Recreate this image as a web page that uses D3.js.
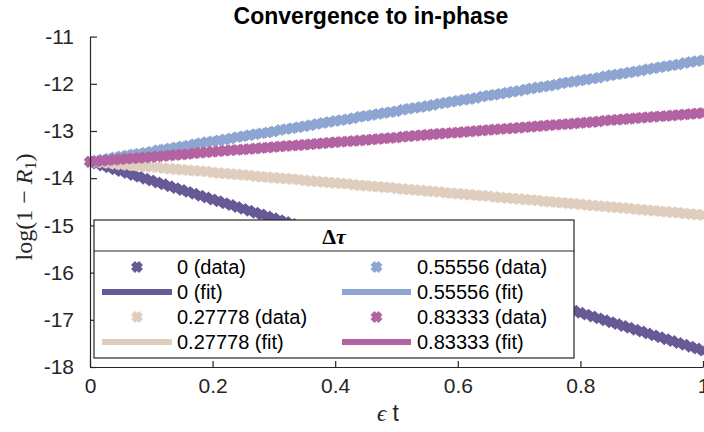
<!DOCTYPE html>
<html>
<head>
<meta charset="utf-8">
<script src="https://cdn.jsdelivr.net/npm/d3@7"></script>
<style>
  body { margin: 0; background: #fff; }
  svg { display: block; }
</style>
</head>
<body>
<script>
// Sample times (epsilon t)
const t = [
  0.00, 0.01, 0.02, 0.03, 0.04, 0.05, 0.06, 0.07, 0.08, 0.09,
  0.10, 0.11, 0.12, 0.13, 0.14, 0.15, 0.16, 0.17, 0.18, 0.19,
  0.20, 0.21, 0.22, 0.23, 0.24, 0.25, 0.26, 0.27, 0.28, 0.29,
  0.30, 0.31, 0.32, 0.33, 0.34, 0.35, 0.36, 0.37, 0.38, 0.39,
  0.40, 0.41, 0.42, 0.43, 0.44, 0.45, 0.46, 0.47, 0.48, 0.49,
  0.50, 0.51, 0.52, 0.53, 0.54, 0.55, 0.56, 0.57, 0.58, 0.59,
  0.60, 0.61, 0.62, 0.63, 0.64, 0.65, 0.66, 0.67, 0.68, 0.69,
  0.70, 0.71, 0.72, 0.73, 0.74, 0.75, 0.76, 0.77, 0.78, 0.79,
  0.80, 0.81, 0.82, 0.83, 0.84, 0.85, 0.86, 0.87, 0.88, 0.89,
  0.90, 0.91, 0.92, 0.93, 0.94, 0.95, 0.96, 0.97, 0.98, 0.99,
  1.00
];

// log(1 - R1) for delta tau = 0
const logR_0 = [
  -13.65, -13.69, -13.73, -13.77, -13.81, -13.85, -13.89, -13.93, -13.97, -14.01,
  -14.05, -14.09, -14.13, -14.17, -14.21, -14.25, -14.29, -14.33, -14.37, -14.41,
  -14.45, -14.49, -14.53, -14.57, -14.61, -14.65, -14.69, -14.73, -14.77, -14.81,
  -14.85, -14.89, -14.93, -14.97, -15.01, -15.05, -15.09, -15.13, -15.17, -15.21,
  -15.25, -15.29, -15.33, -15.37, -15.41, -15.45, -15.49, -15.53, -15.57, -15.61,
  -15.65, -15.69, -15.73, -15.77, -15.81, -15.85, -15.89, -15.93, -15.97, -16.01,
  -16.05, -16.09, -16.13, -16.17, -16.21, -16.25, -16.29, -16.33, -16.37, -16.41,
  -16.45, -16.49, -16.53, -16.57, -16.61, -16.65, -16.69, -16.73, -16.77, -16.81,
  -16.85, -16.89, -16.93, -16.97, -17.01, -17.05, -17.09, -17.13, -17.17, -17.21,
  -17.25, -17.29, -17.33, -17.37, -17.41, -17.45, -17.49, -17.53, -17.57, -17.61,
  -17.65
];

// delta tau = 0.27778
const logR_1 = [
  -13.65, -13.66, -13.67, -13.68, -13.70, -13.71, -13.72, -13.73, -13.74, -13.75,
  -13.76, -13.77, -13.79, -13.80, -13.81, -13.82, -13.83, -13.84, -13.85, -13.86,
  -13.88, -13.89, -13.90, -13.91, -13.92, -13.93, -13.94, -13.96, -13.97, -13.98,
  -13.99, -14.00, -14.01, -14.02, -14.03, -14.05, -14.06, -14.07, -14.08, -14.09,
  -14.10, -14.11, -14.12, -14.14, -14.15, -14.16, -14.17, -14.18, -14.19, -14.20,
  -14.22, -14.23, -14.24, -14.25, -14.26, -14.27, -14.28, -14.29, -14.31, -14.32,
  -14.33, -14.34, -14.35, -14.36, -14.37, -14.38, -14.40, -14.41, -14.42, -14.43,
  -14.44, -14.45, -14.46, -14.47, -14.49, -14.50, -14.51, -14.52, -14.53, -14.54,
  -14.55, -14.57, -14.58, -14.59, -14.60, -14.61, -14.62, -14.63, -14.64, -14.66,
  -14.67, -14.68, -14.69, -14.70, -14.71, -14.72, -14.73, -14.75, -14.76, -14.77,
  -14.78
];

// delta tau = 0.55556
const logR_2 = [
  -13.65, -13.63, -13.61, -13.59, -13.56, -13.54, -13.52, -13.50, -13.48, -13.46,
  -13.44, -13.41, -13.39, -13.37, -13.35, -13.33, -13.31, -13.28, -13.26, -13.24,
  -13.22, -13.20, -13.18, -13.16, -13.13, -13.11, -13.09, -13.07, -13.05, -13.03,
  -13.01, -12.98, -12.96, -12.94, -12.92, -12.90, -12.88, -12.85, -12.83, -12.81,
  -12.79, -12.77, -12.75, -12.73, -12.70, -12.68, -12.66, -12.64, -12.62, -12.60,
  -12.58, -12.55, -12.53, -12.51, -12.49, -12.47, -12.45, -12.42, -12.40, -12.38,
  -12.36, -12.34, -12.32, -12.30, -12.27, -12.25, -12.23, -12.21, -12.19, -12.17,
  -12.15, -12.12, -12.10, -12.08, -12.06, -12.04, -12.02, -11.99, -11.97, -11.95,
  -11.93, -11.91, -11.89, -11.87, -11.84, -11.82, -11.80, -11.78, -11.76, -11.74,
  -11.72, -11.69, -11.67, -11.65, -11.63, -11.61, -11.59, -11.56, -11.54, -11.52,
  -11.50
];

// delta tau = 0.83333
const logR_3 = [
  -13.65, -13.64, -13.63, -13.62, -13.61, -13.60, -13.59, -13.58, -13.57, -13.56,
  -13.55, -13.54, -13.53, -13.52, -13.51, -13.50, -13.49, -13.47, -13.46, -13.45,
  -13.44, -13.43, -13.42, -13.41, -13.40, -13.39, -13.38, -13.37, -13.36, -13.35,
  -13.34, -13.33, -13.32, -13.31, -13.30, -13.29, -13.28, -13.27, -13.26, -13.25,
  -13.24, -13.23, -13.22, -13.21, -13.20, -13.19, -13.18, -13.17, -13.16, -13.15,
  -13.14, -13.12, -13.11, -13.10, -13.09, -13.08, -13.07, -13.06, -13.05, -13.04,
  -13.03, -13.02, -13.01, -13.00, -12.99, -12.98, -12.97, -12.96, -12.95, -12.94,
  -12.93, -12.92, -12.91, -12.90, -12.89, -12.88, -12.87, -12.86, -12.85, -12.84,
  -12.83, -12.82, -12.81, -12.80, -12.78, -12.77, -12.76, -12.75, -12.74, -12.73,
  -12.72, -12.71, -12.70, -12.69, -12.68, -12.67, -12.66, -12.65, -12.64, -12.63,
  -12.62
];

const dtau = ["0", "0.27778", "0.55556", "0.83333"];
const seriesValues = [logR_0, logR_1, logR_2, logR_3];

// Linear fits: log(1 - R1) = intercept + slope * (epsilon t)
const fitIntercept = [-13.65, -13.65, -13.65, -13.65];
const fitSlope = [-4.00, -1.13, 2.15, 1.03];

const xTicks = [0, 0.2, 0.4, 0.6, 0.8, 1];
const xTickLabels = ["0", "0.2", "0.4", "0.6", "0.8", "1"];
const yTicks = [-18, -17, -16, -15, -14, -13, -12, -11];
const yTickLabels = ["-18", "-17", "-16", "-15", "-14", "-13", "-12", "-11"];

const colors = ["#675996", "#dfcebe", "#8fa5d1", "#b363a1"];
const ink = "#262626";

const W = 704, H = 432;
const svg = d3.select("body").append("svg").attr("width", W).attr("height", H);

const x = d3.scaleLinear().domain([0, 1]).range([90, 703]);
const y = d3.scaleLinear().domain([-18, -11]).range([367, 36.6]);

const sans = "'Liberation Sans', Arial, Helvetica, sans-serif";
const serif = "'Liberation Serif', 'Times New Roman', serif";

// fat "x" marker
const markerPath = "M-4,-4L4,4M-4,4L4,-4";
const markerWidth = 5.6;

const plot = svg.append("g");
const fitLine = d3.line().x(d => x(d[0])).y(d => y(d[1]));

seriesValues.forEach((vals, i) => {
  const pts = t.map((tv, k) => [tv, vals[k]]);
  plot.append("g")
    .selectAll("path")
    .data(pts)
    .join("path")
    .attr("d", markerPath)
    .attr("transform", d => `translate(${x(d[0])},${y(d[1])})`)
    .attr("stroke", colors[i])
    .attr("stroke-width", markerWidth)
    .attr("fill", "none");
  const f = [0, 1].map(tv => [tv, fitIntercept[i] + fitSlope[i] * tv]);
  plot.append("path")
    .attr("d", fitLine(f))
    .attr("stroke", colors[i])
    .attr("stroke-width", 6)
    .attr("fill", "none");
});

// Axes
const xAxis = d3.axisBottom(x)
  .tickValues(xTicks)
  .tickFormat((d, i) => xTickLabels[i])
  .tickSizeInner(-6)
  .tickSizeOuter(0)
  .tickPadding(11);
const yAxis = d3.axisLeft(y)
  .tickValues(yTicks)
  .tickFormat((d, i) => yTickLabels[i])
  .tickSizeInner(-7)
  .tickSizeOuter(0)
  .tickPadding(16);

const gx = svg.append("g").attr("transform", "translate(0,367)").call(xAxis);
const gy = svg.append("g").attr("transform", "translate(90,0)").call(yAxis);
[gx, gy].forEach(g => {
  g.select(".domain").attr("stroke", ink).attr("stroke-width", 1.2);
  g.selectAll(".tick line").attr("stroke", ink).attr("stroke-width", 1.2);
  g.selectAll(".tick text")
    .attr("fill", ink)
    .style("font-family", sans)
    .style("font-size", "21px");
});

// Title
svg.append("text")
  .attr("x", 371).attr("y", 24)
  .attr("text-anchor", "middle")
  .style("font-family", sans)
  .style("font-size", "23px")
  .style("font-weight", "bold")
  .attr("fill", "#000")
  .text("Convergence to in-phase");

// X label: epsilon t
const xl = svg.append("text")
  .attr("x", 388).attr("y", 421)
  .attr("text-anchor", "middle")
  .attr("fill", ink)
  .style("font-size", "23px");
xl.append("tspan").style("font-family", serif).style("font-style", "italic").text("\u03F5");
xl.append("tspan").style("font-family", sans).text(" t");

// Y label: log(1 - R_1)
const yl = svg.append("text")
  .attr("transform", "translate(32,207) rotate(-90)")
  .attr("text-anchor", "middle")
  .attr("fill", ink)
  .style("font-family", serif)
  .style("font-size", "24px");
yl.append("tspan").text("log(1 \u2212 ");
yl.append("tspan").style("font-style", "italic").text("R");
yl.append("tspan").attr("dy", 4).style("font-size", "16px").text("1");
yl.append("tspan").attr("dy", -4).text(")");

// Legend
const lg = svg.append("g");
const L = { x0: 94, x1: 574, y0: 220, y1: 358, div: 251 };
lg.append("rect")
  .attr("x", L.x0).attr("y", L.y0)
  .attr("width", L.x1 - L.x0).attr("height", L.y1 - L.y0)
  .attr("fill", "#fff").attr("stroke", ink).attr("stroke-width", 1.2);
lg.append("line")
  .attr("x1", L.x0).attr("x2", L.x1).attr("y1", L.div).attr("y2", L.div)
  .attr("stroke", ink).attr("stroke-width", 1.2);
const lt = lg.append("text")
  .attr("x", (L.x0 + L.x1) / 2).attr("y", 243.5)
  .attr("text-anchor", "middle")
  .attr("fill", "#000")
  .style("font-family", serif)
  .style("font-size", "22px")
  .style("font-weight", "bold");
lt.append("tspan").text("\u0394");
lt.append("tspan").style("font-style", "italic").text("\u03C4");

const rowY = [267, 292, 317, 342];
const cols = [
  { mark: 137, l0: 102, l1: 172, text: 177 },
  { mark: 376.5, l0: 342, l1: 411, text: 417 }
];
dtau.forEach((lab, i) => {
  const c = cols[Math.floor(i / 2)];
  const r0 = (i % 2) * 2;
  // data entry
  lg.append("path")
    .attr("d", markerPath)
    .attr("transform", `translate(${c.mark},${rowY[r0]})`)
    .attr("stroke", colors[i]).attr("stroke-width", markerWidth).attr("fill", "none");
  lg.append("text")
    .attr("x", c.text).attr("y", rowY[r0] + 7)
    .attr("fill", "#000")
    .style("font-family", sans).style("font-size", "20px")
    .text(`${lab} (data)`);
  // fit entry
  lg.append("line")
    .attr("x1", c.l0).attr("x2", c.l1)
    .attr("y1", rowY[r0 + 1]).attr("y2", rowY[r0 + 1])
    .attr("stroke", colors[i]).attr("stroke-width", 6);
  lg.append("text")
    .attr("x", c.text).attr("y", rowY[r0 + 1] + 7)
    .attr("fill", "#000")
    .style("font-family", sans).style("font-size", "20px")
    .text(`${lab} (fit)`);
});
</script>
</body>
</html>
